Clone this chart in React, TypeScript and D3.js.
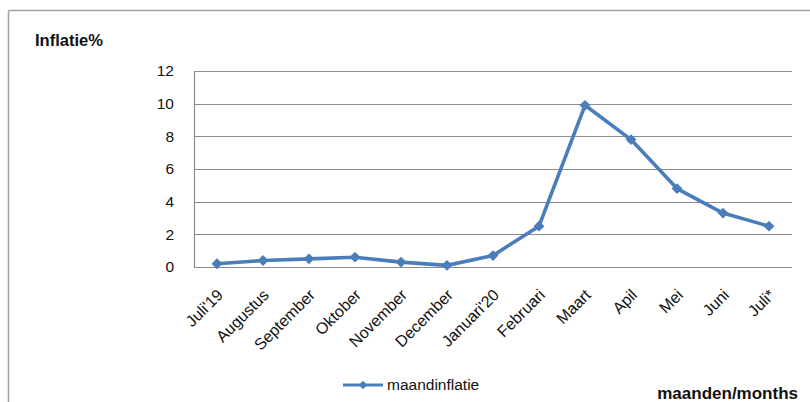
import React, { useRef, useEffect } from 'react';
import * as d3 from 'd3';

const months = ["Juli'19", 'Augustus', 'September', 'Oktober', 'November', 'December', "Januari'20", 'Februari', 'Maart', 'Apil', 'Mei', 'Juni', 'Juli*'];
const inflation = [0.2, 0.4, 0.5, 0.6, 0.3, 0.1, 0.7, 2.5, 9.9, 7.8, 4.8, 3.3, 2.5];
const yTicks = [0, 2, 4, 6, 8, 10, 12];

const W = 810;
const H = 402;
const LINE = '#4a7ebb';
const FONT = 'Liberation Sans, Arial, sans-serif';

const App = () => {
  const svgRef = useRef<SVGSVGElement | null>(null);

  useEffect(() => {
    const svg = d3.select(svgRef.current);
    svg.selectAll('*').remove();

    const plot = { left: 194, right: 792, top: 71, bottom: 267 };

    const x = d3.scaleBand<string>()
      .domain(months)
      .range([plot.left, plot.right]);
    const y = d3.scaleLinear().domain([0, 12]).range([plot.bottom, plot.top]);
    const cx = (m: string) => (x(m) as number) + x.bandwidth() / 2;

    // outer frame (only top and left edges are visible)
    svg.append('line')
      .attr('x1', 8.5).attr('x2', W).attr('y1', 10.5).attr('y2', 10.5)
      .attr('stroke', '#a0a0a0').attr('stroke-width', 1.5);
    svg.append('line')
      .attr('x1', 8.5).attr('x2', 8.5).attr('y1', 10.5).attr('y2', H)
      .attr('stroke', '#a0a0a0').attr('stroke-width', 1.5);

    // grid lines
    svg.append('g')
      .selectAll('line')
      .data(yTicks)
      .enter()
      .append('line')
      .attr('x1', plot.left)
      .attr('x2', plot.right)
      .attr('y1', d => Math.round(y(d)) + 0.5)
      .attr('y2', d => Math.round(y(d)) + 0.5)
      .attr('stroke', '#8c8c8c')
      .attr('stroke-width', 1.2);

    // left axis line
    svg.append('line')
      .attr('x1', plot.left + 0.5).attr('x2', plot.left + 0.5)
      .attr('y1', plot.top).attr('y2', plot.bottom)
      .attr('stroke', '#8c8c8c').attr('stroke-width', 1.2);

    // y tick labels
    svg.append('g')
      .selectAll('text')
      .data(yTicks)
      .enter()
      .append('text')
      .attr('x', 174)
      .attr('y', d => y(d))
      .attr('dy', '0.35em')
      .attr('text-anchor', 'end')
      .attr('font-family', FONT)
      .attr('font-size', 15.5)
      .attr('fill', '#111')
      .text(d => d);

    // x tick labels, rotated
    svg.append('g')
      .selectAll('text')
      .data(months)
      .enter()
      .append('text')
      .attr('transform', d => `translate(${cx(d) + 7},${plot.bottom + 29}) rotate(-45)`)
      .attr('text-anchor', 'end')
      .attr('font-family', FONT)
      .attr('font-size', 16)
      .attr('fill', '#111')
      .text(d => d);

    // line
    const line = d3.line<number>()
      .x((_, i) => cx(months[i]))
      .y(d => y(d));

    svg.append('path')
      .datum(inflation)
      .attr('fill', 'none')
      .attr('stroke', LINE)
      .attr('stroke-width', 3.6)
      .attr('stroke-linejoin', 'round')
      .attr('d', line);

    const diamond = d3.symbol().type(d3.symbolDiamond2).size(75);
    svg.append('g')
      .selectAll('path')
      .data(inflation)
      .enter()
      .append('path')
      .attr('transform', (d, i) => `translate(${cx(months[i])},${y(d)})`)
      .attr('d', diamond)
      .attr('fill', LINE);

    // axis titles
    svg.append('text')
      .attr('x', 35).attr('y', 46)
      .attr('font-family', FONT)
      .attr('font-size', 16.5)
      .attr('font-weight', 'bold')
      .attr('fill', '#111')
      .text('Inflatie%');

    svg.append('text')
      .attr('x', 798).attr('y', 399)
      .attr('text-anchor', 'end')
      .attr('font-family', FONT)
      .attr('font-size', 17)
      .attr('font-weight', 'bold')
      .attr('fill', '#111')
      .text('maanden/months');

    // legend
    const legend = svg.append('g').attr('transform', 'translate(343,385)');
    legend.append('line')
      .attr('x1', 0).attr('x2', 40).attr('y1', 0).attr('y2', 0)
      .attr('stroke', LINE).attr('stroke-width', 3);
    legend.append('path')
      .attr('transform', 'translate(20,0)')
      .attr('d', d3.symbol().type(d3.symbolDiamond2).size(45))
      .attr('fill', LINE);
    legend.append('text')
      .attr('x', 44).attr('y', 0)
      .attr('dy', '0.35em')
      .attr('font-family', FONT)
      .attr('font-size', 15.5)
      .attr('fill', '#111')
      .text('maandinflatie');
  }, []);

  return (
    <div style={{ position: 'fixed', left: 0, top: 0, width: W, height: H, background: '#fff' }}>
      <svg ref={svgRef} width={W} height={H} style={{ display: 'block' }}></svg>
    </div>
  );
};

export default App;
